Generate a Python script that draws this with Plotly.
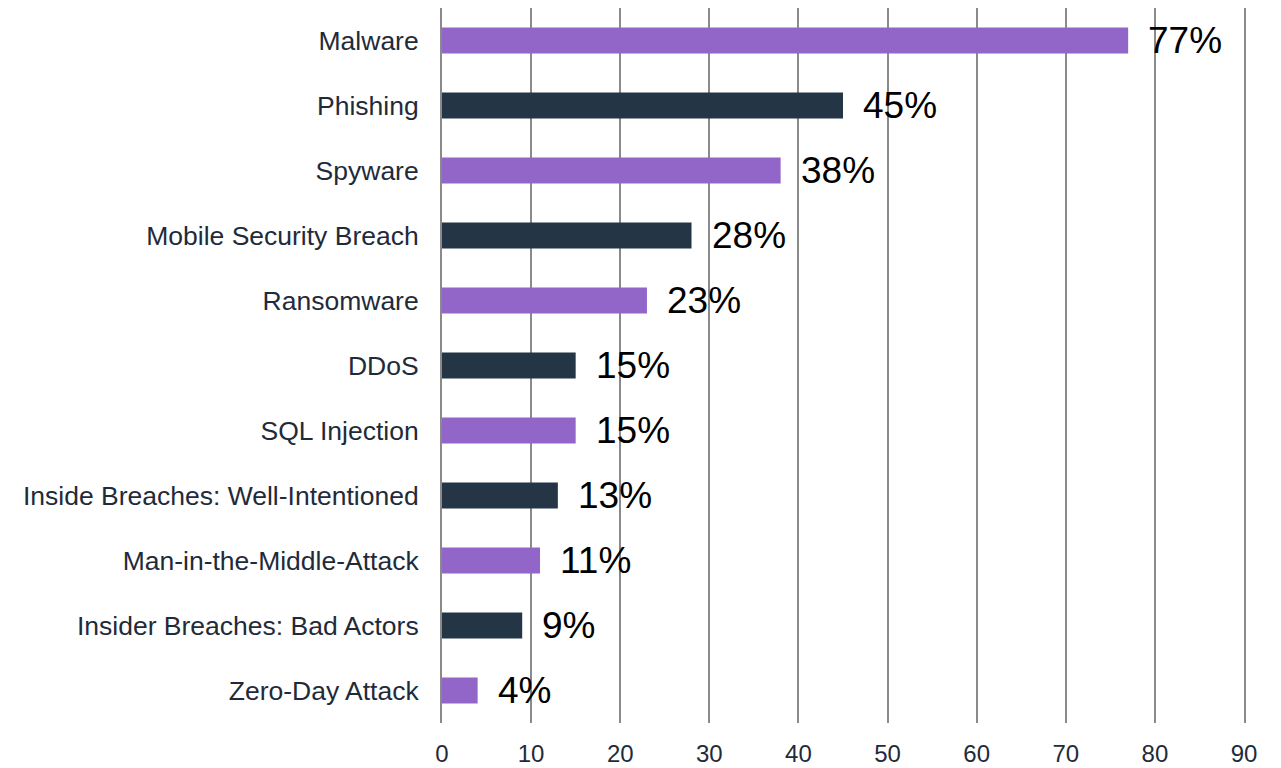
import plotly.graph_objects as go

categories = ["Malware", "Phishing", "Spyware", "Mobile Security Breach", "Ransomware",
              "DDoS", "SQL Injection", "Inside Breaches: Well-Intentioned",
              "Man-in-the-Middle-Attack", "Insider Breaches: Bad Actors", "Zero-Day Attack"]
values = [77, 45, 38, 28, 23, 15, 15, 13, 11, 9, 4]
label_text = ["77%", "45%", "38%", "28%", "23%", "15%", "15%", "13%", "11%", "9%", "4%"]
bar_colors = ["#9166C8", "#243546"] * 6
bar_colors = bar_colors[:len(categories)]
x_ticks = [0, 10, 20, 30, 40, 50, 60, 70, 80, 90]

fig = go.Figure()
fig.add_trace(go.Bar(
    y=categories, x=values, orientation="h",
    marker=dict(color=bar_colors, line=dict(width=0)),
    width=0.4, hoverinfo="skip",
))

for c, v, t in zip(categories, values, label_text):
    fig.add_annotation(x=v, y=c, text=t, showarrow=False, xanchor="left",
                       xshift=18, yshift=0,
                       font=dict(family="Liberation Sans, Arial", size=37, color="#000000"))

fig.update_layout(
    width=1281, height=768,
    margin=dict(l=442, r=37, t=8, b=45),
    paper_bgcolor="white", plot_bgcolor="white",
    showlegend=False,
    font=dict(family="Liberation Sans, Arial", size=24, color="#1f2b3a"),
)
fig.update_xaxes(
    range=[0, 90], tickvals=x_ticks, showgrid=True, gridcolor="#8a8a8a", gridwidth=2,
    zeroline=False, showline=False, ticks="", tickfont=dict(size=24),
    ticklabelstandoff=14, automargin=False,
)
fig.update_yaxes(
    categoryorder="array", categoryarray=categories, autorange=False, range=[10.5, -0.5],
    showgrid=False, zeroline=False, showline=True, mirror=True,
    linecolor="#8a8a8a", linewidth=2, automargin=False,
    ticks="", ticklabelstandoff=16, tickfont=dict(size=26.5),
)

fig.write_html("out.html")
